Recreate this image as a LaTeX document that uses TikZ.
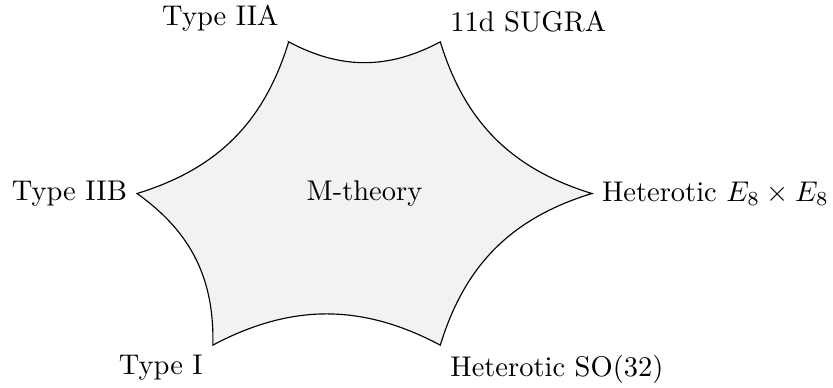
\documentclass[tikz,border=0pt]{standalone}
\usepackage{amsmath}
\usepackage{tikz}
\usetikzlibrary{positioning}

\begin{document}
\begin{tikzpicture}[scale=0.935]
  \useasboundingbox (-4.807,-2.565) rectangle (6.179,2.552);
  % corners of the web
  \coordinate (iia) at (-1,2);
  \coordinate (sugra) at (1,2);
  \coordinate (hete) at (3,0);
  \coordinate (hso) at (1,-2);
  \coordinate (typei) at (-2,-2);
  \coordinate (iib) at (-3,0);
  \filldraw[fill=gray!10, draw=black]
    (iia) to[bend right=28] (sugra) to[bend right=28] (hete)
    to[bend right=28] (hso) to[bend right=28] (typei)
    to[bend right=28] (iib) to[bend right=28] cycle;
  \node (mth) at (0,0) {M-theory};
  \node[above left] (liia) at (iia) {Type IIA};
  \node[above right] (lsugra) at (sugra) {11d SUGRA};
  \node[right] (lhete) at (hete) {Heterotic $E_8\times E_8$};
  \node[below right] (lhso) at (hso) {Heterotic SO(32)};
  \node[below left] (ltypei) at (typei) {Type I};
  \node[left] (liib) at (iib) {Type IIB};
\end{tikzpicture}
\end{document}
